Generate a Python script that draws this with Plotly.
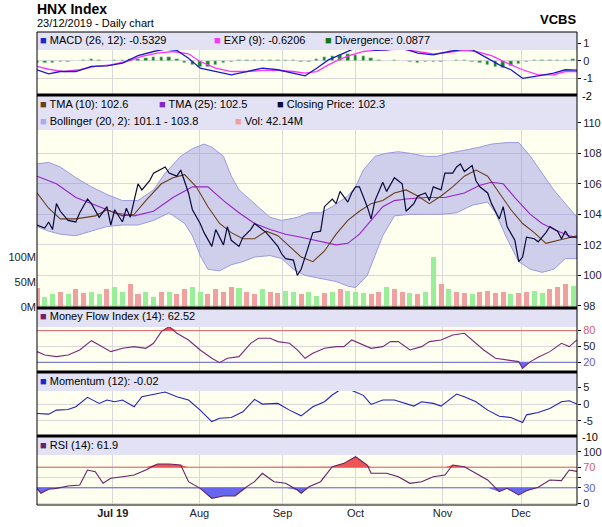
import numpy as np
import plotly.graph_objects as go

# ---------------- data (x = trading-day index) ----------------
month_pos = [19.5, 41.8, 63.2, 82.0, 104.4, 124.6]
month_lbl = ["<b>Jul 19</b>", "Aug", "Sep", "Oct", "Nov", "Dec"]

close_x = [0,2,3,4,5,6,8,10,11,13,14,16,18,19,20,22,23,24,26,27,29,30,33,34,36,37,39,40,42,43,45,46,48,49,50,52,53,55,56,58,59,60,62,63,64,66,67,68,69,71,73,74,76,77,78,80,81,82,83,85,86,87,89,90,92,94,95,97,98,100,101,102,104,105,107,108,109,110,112,113,114,116,117,119,120,121,123,124,125,126,128,129,131,132,134,135,136,137,139]
close_y = [103.3,103.1,103.5,103.0,104.7,104.2,103.6,103.5,104.1,105.0,104.7,103.8,104.5,103.3,104.3,103.5,104.4,103.8,106.0,105.6,106.2,106.7,107.1,106.7,106.5,106.9,105.4,104.3,103.4,102.8,101.9,103.0,102.0,103.2,102.3,101.9,102.5,103.0,103.4,103.0,102.8,102.5,101.9,101.4,101.1,101.0,100.0,100.4,101.2,102.8,102.9,104.5,105.0,104.7,105.5,104.8,105.4,105.8,105.8,104.5,103.7,104.9,106.1,105.5,106.4,106.0,104.2,104.7,105.2,105.4,104.9,105.8,105.6,106.7,106.7,107.1,107.3,106.8,107.2,106.2,105.8,105.4,104.7,103.7,104.5,103.2,102.3,100.9,101.2,102.5,102.4,102.2,102.8,103.2,102.9,102.4,102.9,102.5,102.5]

tma10_x = [0,3,6,10,15,18,22,25,28,32,35,38,41,44,47,50,53,56,59,62,65,68,71,74,77,80,83,86,89,92,95,98,101,104,107,110,113,116,119,122,125,128,131,134,137,139]
tma10_y = [105.4,104.4,103.7,103.7,103.9,104.3,103.9,104.0,104.9,106.0,106.4,106.6,105.8,104.5,103.4,102.8,102.4,102.4,102.9,102.6,101.9,101.2,100.9,101.6,102.7,103.6,104.2,104.7,104.9,105.4,105.6,105.2,104.7,105.2,105.8,106.5,106.9,106.5,105.4,104.3,103.4,102.8,102.1,102.3,102.5,102.6]

tma25_x = [0,5,10,15,20,25,30,35,40,44,48,52,56,60,64,68,73,77,80,83,86,89,92,95,100,105,110,114,117,120,123,127,130,134,137,139]
tma25_y = [106.5,106.0,105.1,104.6,104.1,103.9,104.2,105.1,105.8,105.8,104.9,104.1,103.4,103.0,102.7,102.5,102.2,102.0,102.1,102.7,103.6,104.5,104.9,105.0,105.1,105.1,105.4,105.9,106.1,106.0,105.1,104.0,103.4,102.9,102.6,102.5]

boll_up_x = [0,3,6,10,14,18,22,26,30,33,37,40,43,45,48,50,52,56,60,63,67,70,73,76,80,82,84,87,90,93,96,100,103,106,110,114,117,121,124,127,130,133,136,139]
boll_up_y = [107.3,107.4,107.1,106.4,105.8,105.3,104.9,104.9,105.6,106.7,107.8,108.3,108.6,108.4,107.8,106.5,105.6,104.7,103.8,103.6,103.8,104.1,104.1,104.5,105.2,105.8,106.9,107.8,108.0,108.1,108.0,107.8,107.8,108.0,108.2,108.4,108.6,108.7,108.7,107.8,106.7,105.6,104.7,103.8]
boll_lo_x = [0,3,6,10,14,18,22,26,30,34,38,40,42,44,47,50,53,56,60,63,66,69,73,77,80,82,85,87,89,92,96,100,104,108,112,116,118,121,124,127,130,133,136,139]
boll_lo_y = [103.2,102.9,102.7,102.6,102.9,103.2,103.3,103.3,103.6,104.1,103.4,102.6,101.3,100.4,100.3,100.7,100.9,101.2,101.3,101.1,100.4,100.0,99.8,99.6,99.3,99.2,100.0,101.3,102.6,103.9,104.0,104.0,104.0,104.1,104.6,104.8,104.1,102.4,100.9,100.4,100.2,100.4,101.1,101.1]

volume = [38,20,25,30,25,35,28,30,25,35,40,30,45,25,30,20,30,30,25,35,40,30,25,35,30,40,38,30,25,35,30,28,32,30,25,30,22,28,30,35,32,30,28,25,30,40,35,30,28,25,30,100,45,35,30,28,25,30,32,28,30,25,28,30,32,28,35,40,45,42]
vol_dir = "RGGRGRRGGRGGRRGGRGRRGGRRRRGRRGRRGGRGGRGRGGGRRGRRGRGGRGRRGRRRRGRRGGRRRGRR"

macd_x = [0,3,6,10,14,18,22,26,30,33,36,39,42,46,50,54,58,62,66,69,72,75,78,81,84,87,90,94,98,102,106,110,112,115,119,122,125,129,133,136,139]
macd_y = [-0.51,-0.74,-0.61,-0.61,-0.32,-0.29,-0.13,0.29,0.53,0.67,0.59,0.15,-0.42,-0.61,-0.80,-0.61,-0.42,-0.51,-0.70,-0.86,-0.42,0.05,0.34,0.63,0.78,0.59,0.63,0.72,0.44,0.34,0.53,0.67,0.63,0.25,-0.23,-0.51,-1.0,-0.86,-0.70,-0.51,-0.53]
exp_x = [0,3,7,11,15,19,23,27,31,35,39,42,46,50,54,58,62,66,69,72,75,78,81,84,87,90,94,98,102,106,110,113,117,121,125,129,133,136,139]
exp_y = [-0.32,-0.48,-0.61,-0.51,-0.32,-0.23,-0.04,0.25,0.44,0.53,0.40,-0.04,-0.42,-0.61,-0.61,-0.55,-0.55,-0.61,-0.70,-0.61,-0.23,0.10,0.34,0.53,0.59,0.63,0.67,0.53,0.40,0.48,0.59,0.53,0.29,-0.13,-0.51,-0.80,-0.80,-0.61,-0.62]
divergence = [-0.12,-0.12,-0.1,-0.06,-0.04,-0.02,0.05,0.08,0.04,-0.02,0.02,0.06,0.1,0.12,0.15,0.2,0.22,0.2,0.12,-0.1,-0.25,-0.35,-0.35,-0.25,-0.15,-0.05,0.02,0.04,0.05,0.03,0.02,0.03,0.04,0.02,-0.04,-0.08,0.1,0.2,0.28,0.35,0.4,0.35,0.25,0.15,0.05,0.0,0.02,-0.02,-0.08,-0.1,-0.08,-0.06,-0.05,-0.03,0.02,0.05,-0.08,-0.15,-0.25,-0.35,-0.4,-0.3,-0.2,-0.05,0.03,0.05,0.07,0.06,0.05,0.09]

mfi_x = [0,2,5,8,11,14,16,19,22,25,28,30,32,34,36,39,42,45,47,49,52,55,57,60,62,65,67,69,71,74,77,79,81,84,86,89,91,93,96,99,101,104,107,110,112,115,118,121,124,125,127,129,132,135,137,139]
mfi_y = [40.2,33.9,30.7,33.9,43.4,61,52.8,40.2,46.5,49.7,46.5,56,78.1,87.6,75,62.3,43.4,27.6,19.4,27.6,30.7,56,65.5,65.5,59.2,56,43.4,27.6,37,46.5,49.7,49.7,62.3,52.8,46.5,49.7,59.2,59.2,43.4,49.7,59.2,62.3,71.8,75,62.3,43.4,27.6,24.4,21.3,8.6,21.3,29.5,40.2,56,49.7,62.5]

mom_x = [0,3,5,8,10,13,14,16,18,20,22,25,27,30,33,36,39,42,45,47,50,53,56,58,62,65,68,71,74,76,79,82,84,86,89,92,95,97,99,102,104,106,108,110,113,116,119,122,125,126,129,132,135,137,139]
mom_y = [-2.8,-3.0,-1.8,-1.6,-0.8,2.0,1.4,0.2,1.2,0.7,1.2,-0.8,2.2,3.0,3.6,2.2,1.2,-1.8,-5.2,-4.2,-4.0,-2.3,1.4,0.0,0.2,-1.8,-3.5,-0.8,0.7,2.7,5.0,3.6,2.6,-0.1,1.2,1.2,0.2,-0.6,0.7,0.2,-0.6,1.2,3.0,2.2,0.7,-1.8,-3.6,-4.0,-5.5,-3.2,-2.5,-1.3,0.7,1.0,0.0]

rsi_x = [0,1,3,5,8,11,13,15,17,19,22,25,28,31,34,37,39,42,45,48,51,54,56,58,61,64,67,68,70,73,76,79,82,85,86,90,93,96,99,102,105,107,110,113,116,119,121,124,126,129,132,135,137,139]
rsi_y = [29,19.4,27.1,29,33.5,35.5,64.5,61.3,38.7,48.4,51.6,54.8,64.5,76.1,76.1,74.2,41.9,29,9.7,14.2,14.2,32.3,41.9,58.1,41.9,38.7,25.8,19.4,32.3,41.9,71,77.4,90.3,74.2,58.1,58.1,51.6,38.7,41.9,51.6,54.8,74.2,71,58.1,45.2,22.6,29,16.1,24.5,31,45.2,43.9,64.5,61.9]

# ---------------- layout geometry ----------------
W, H = 602, 527
L, R, T, B = 37, 25, 32, 22
PH = H - T - B
def fy(px):
    return (H - B - px) / PH

dom = {
    "y": [fy(94), fy(32)],
    "y2": [fy(307), fy(96)],
    "y4": [fy(371), fy(309)],
    "y5": [fy(435), fy(373)],
    "y6": [fy(505), fy(437)],
}

fig = go.Figure()
def sc(x, y, color, yax, width=1.1, **kw):
    fig.add_trace(go.Scatter(x=x, y=y, mode="lines", line=dict(color=color, width=width),
                             xaxis="x", yaxis=yax, hoverinfo="skip", **kw))

# MACD panel
div_x = list(range(0, 2 * len(divergence), 2))
fig.add_trace(go.Bar(x=div_x, y=divergence, marker_color="#118811", width=0.9, xaxis="x", yaxis="y"))
sc(exp_x, exp_y, "#ff33ff", "y", width=1.3)
sc(macd_x, macd_y, "#1a1acc", "y", width=1.3)

# Price panel
vol_x = list(range(0, 2 * len(volume), 2))
vol_col = ["#99ee99" if vol_dir[i % len(vol_dir)] == "G" else "#f0a0a0" for i in range(len(volume))]
fig.add_trace(go.Bar(x=vol_x, y=volume, marker=dict(color=vol_col, line=dict(width=0)), width=1.3,
                     xaxis="x", yaxis="y3"))
fig.add_trace(go.Scatter(x=boll_up_x + boll_lo_x[::-1], y=boll_up_y + boll_lo_y[::-1], fill="toself",
                         fillcolor="rgba(140,140,230,0.42)", line=dict(color="#9a9ae0", width=1),
                         mode="lines", xaxis="x", yaxis="y2", hoverinfo="skip"))
sc(tma25_x, tma25_y, "#9922cc", "y2")
sc(tma10_x, tma10_y, "#6b3d1a", "y2")
sc(close_x, close_y, "#0a0a3a", "y2", width=1.2)

# MFI panel
for lvl, col in [(80, "#dd6666"), (20, "#6666cc")]:
    sc([0, 139], [lvl, lvl], col, "y4", width=1)
sc([0, 139], [80, 80], "rgba(0,0,0,0)", "y4")
sc(mfi_x, np.maximum(mfi_y, 80), "rgba(0,0,0,0)", "y4", fill="tonexty", fillcolor="#ee5555")
sc([0, 139], [20, 20], "rgba(0,0,0,0)", "y4")
sc(mfi_x, np.minimum(mfi_y, 20), "rgba(0,0,0,0)", "y4", fill="tonexty", fillcolor="#6666ee")
sc(mfi_x, mfi_y, "#7a2a7a", "y4")

# Momentum
sc(mom_x, mom_y, "#2222bb", "y5")

# RSI
for lvl, col in [(70, "#dd6666"), (30, "#6666cc")]:
    sc([0, 139], [lvl, lvl], col, "y6", width=1)
sc([0, 139], [70, 70], "rgba(0,0,0,0)", "y6")
sc(rsi_x, np.maximum(rsi_y, 70), "rgba(0,0,0,0)", "y6", fill="tonexty", fillcolor="#ee5555")
sc([0, 139], [30, 30], "rgba(0,0,0,0)", "y6")
sc(rsi_x, np.minimum(rsi_y, 30), "rgba(0,0,0,0)", "y6", fill="tonexty", fillcolor="#6666ee")
sc(rsi_x, rsi_y, "#662266", "y6")

grid = "#d8d8d8"
tf = dict(family="Arial", size=11, color="#222")
def yax(d, rng, tv, tt=None, **kw):
    a = dict(domain=d, range=rng, side="right", anchor="x", tickvals=tv, showgrid=True, gridcolor=grid,
             zeroline=False, tickfont=tf, ticks="outside", ticklen=3, tickcolor="#000", fixedrange=True,
             automargin=False)
    if tt is not None:
        a["ticktext"] = tt
    a.update(kw)
    return a

red = lambda s: f"<span style='color:#d06060'>{s}</span>"
blue = lambda s: f"<span style='color:#6060c0'>{s}</span>"

fig.update_layout(
    width=W, height=H, margin=dict(l=L, r=R, t=T, b=B, autoexpand=False),
    paper_bgcolor="white", plot_bgcolor="#fffff0", showlegend=False, bargap=0,
    xaxis=dict(range=[0, 139], tickvals=month_pos, ticktext=month_lbl, showgrid=True, gridcolor=grid,
               zeroline=False, tickfont=tf, anchor="y6", ticks="", fixedrange=True, automargin=False),
    yaxis=yax(dom["y"], [-1.89, 1.64], [-1, 0, 1], ["-1", "0", "1"]),
    yaxis2=yax(dom["y2"], [97.93, 111.75], [98, 100, 102, 104, 106, 108, 110]),
    yaxis3=dict(domain=dom["y2"], range=[0, 420], overlaying="y2", side="left", anchor="x",
                tickvals=[0, 50, 100], ticktext=["0M", "50M", "100M"], showgrid=False, zeroline=False,
                tickfont=tf, fixedrange=True, automargin=False),
    yaxis4=yax(dom["y4"], [3.5, 121], [20, 50, 80], [blue("20"), "50", red("80")]),
    yaxis5=yax(dom["y5"], [-9.2, 9.25], [-5, 0, 5], ["-5", "0", "5"]),
    yaxis6=yax(dom["y6"], [-3.3, 128.5], [0, 30, 50, 70, 100], ["0", blue("30"), "", red("70"), "100"]),
)

shapes = []
def band(top, bot):
    shapes.append(dict(type="rect", xref="paper", yref="paper", x0=0, x1=1, y0=fy(bot), y1=fy(top),
                       fillcolor="#e2e2f4", line_width=0, layer="above"))
for t_, b_ in [(32, 50), (96, 130), (309, 327), (373, 391), (437, 455)]:
    band(t_, b_)
for py in [95, 308, 372, 436]:
    shapes.append(dict(type="line", xref="paper", yref="paper", x0=0, x1=1, y0=fy(py), y1=fy(py),
                       line=dict(color="black", width=3)))
shapes.append(dict(type="rect", xref="paper", yref="paper", x0=0, x1=1, y0=0, y1=1,
                   line=dict(color="black", width=1)))
fig.update_layout(shapes=shapes)

ann = []
def txt(x_px, y_px, s, size=11, anchor="left"):
    ann.append(dict(xref="paper", yref="paper", x=(x_px - L) / (W - L - R), y=fy(y_px), text=s,
                    showarrow=False, xanchor=anchor, yanchor="middle",
                    font=dict(family="Arial", size=size, color="black")))
sq = lambda c: f"<span style='color:{c}'>■</span>"
txt(35, 9, "<b>HNX Index</b>", size=14)
txt(35, 23, "23/12/2019 - Daily chart", size=11)
txt(578, 20, "<b>VCBS</b>", size=13, anchor="right")
txt(38, 40, f"{sq('#2222cc')} MACD (26, 12): -0.5329")
txt(212, 40, f"{sq('#ff33ff')} EXP (9): -0.6206")
txt(323, 40, f"{sq('#117711')} Divergence: 0.0877")
txt(38, 104, f"{sq('#6b3d1a')} TMA (10): 102.6")
txt(157, 104, f"{sq('#8822cc')} TMA (25): 102.5")
txt(275, 104, f"{sq('#0a0a3a')} Closing Price: 102.3")
txt(38, 121, f"{sq('#aaaaee')} Bollinger (20, 2): 101.1 - 103.8")
txt(233, 121, f"{sq('#f0a0a0')} Vol: 42.14M")
txt(38, 316, f"{sq('#7a1a6a')} Money Flow Index (14): 62.52")
txt(38, 381, f"{sq('#2222cc')} Momentum (12): -0.02")
txt(38, 445, f"{sq('#662266')} RSI (14): 61.9")
txt(580, 96, "-2", anchor="left")
txt(580, 437, "-10", anchor="left")
fig.update_layout(annotations=ann)

fig.write_html("out.html", config={"displayModeBar": False},
               post_script="document.body.style.margin='0';document.body.style.overflow='hidden';")
